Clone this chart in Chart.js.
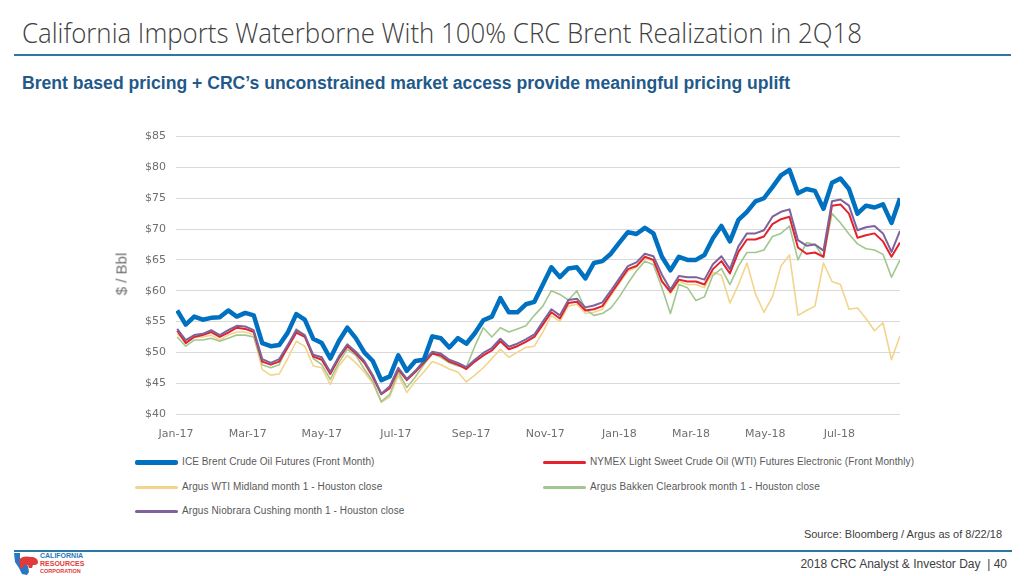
<!DOCTYPE html>
<html>
<head>
<meta charset="utf-8">
<script src="https://cdn.jsdelivr.net/npm/chart.js@4.4.1/dist/chart.umd.min.js"></script>
<style>
  html, body { margin: 0; padding: 0; }
  body { width: 1024px; height: 576px; position: relative; overflow: hidden; background: #fff; font-family: "Liberation Sans", Arial, sans-serif; }
  .abs { position: absolute; white-space: nowrap; }
  #title { left: 22px; top: 13px; font-family: "Open Sans", sans-serif; font-weight: 300; font-size: 28px; color: #404040; transform-origin: left top; }
  #topRule { left: 14px; top: 54px; width: 997px; height: 2px; background: #2a77a8; }
  #subtitle { left: 22px; top: 73px; font-family: "Liberation Sans Narrow", "Liberation Sans", sans-serif; font-weight: bold; font-size: 18px; color: #1f5a8a; transform-origin: left top; }
  #chartBox { left: 100px; top: 120px; width: 820px; height: 324px; }
  #yTitle { left: 121px; top: 274px; font-size: 15px; color: #6f6f6f; transform: translate(-50%, -50%) rotate(-90deg); }
  .legItem { position: absolute; height: 14px; font-size: 10px; color: #595959; white-space: nowrap; }
  .legItem span.sw { position: absolute; left: 0; width: 43px; border-radius: 2px; }
  .legItem span.tx { position: absolute; left: 47px; top: 0; line-height: 14px; white-space: nowrap; letter-spacing: 0.1px; }
  #source { right: 22px; top: 528px; font-size: 11px; color: #404040; }
  #botRule { left: 14px; top: 550px; width: 998px; height: 2px; background: #2a77a8; }
  #footer { right: 17px; top: 557px; font-size: 12px; color: #404040; }
  #logo { left: 13px; top: 552px; width: 80px; height: 24px; }
  .lg { position: absolute; left: 27px; font-weight: bold; line-height: 6px; }
</style>
</head>
<body>
<div id="title" class="abs">California Imports Waterborne With 100% CRC Brent Realization in 2Q18</div>
<div id="topRule" class="abs"></div>
<div id="subtitle" class="abs">Brent based pricing + CRC’s unconstrained market access provide meaningful pricing uplift</div>
<div id="chartBox" class="abs"><canvas id="chart" width="820" height="324"></canvas></div>
<div id="yTitle" class="abs">$ / Bbl</div>
<div id="legend"></div>
<div id="source" class="abs">Source: Bloomberg / Argus as of 8/22/18</div>
<div id="botRule" class="abs"></div>
<div id="footer" class="abs">2018 CRC Analyst &amp; Investor Day &nbsp;| 40</div>
<div id="logo" class="abs">
  <svg width="26" height="24" viewBox="0 0 26 24" style="position:absolute;left:0;top:0">
    <path d="M1 1 L7 1 L7 7 L15 14 L16 20 L14 23 L9 22 L6 16 L2 10 Z" fill="#2a77c0"/>
    <path d="M6 8 C8 4 14 4 18 5 C22 5 25 7 25 10 C25 13 22 13 20 13 L19 16 L16 16 L15 13 L11 13 L10 16 L7 16 L7 12 Z" fill="#e03a3a"/>
  </svg>
  <div class="lg" style="top:1px;font-size:7px;color:#2a77c0">CALIFORNIA</div>
  <div class="lg" style="top:9px;font-size:7px;color:#e03a3a">RESOURCES</div>
  <div class="lg" style="top:16px;font-size:5.5px;color:#e03a3a">CORPORATION</div>
</div>

<script>
// weekly samples (Mondays), Jan 2017 - Aug 2018
const weeks = [
  '2017-01-02','2017-01-09','2017-01-16','2017-01-23','2017-01-30','2017-02-06','2017-02-13','2017-02-20','2017-02-27','2017-03-06',
  '2017-03-13','2017-03-20','2017-03-27','2017-04-03','2017-04-10','2017-04-17','2017-04-24','2017-05-01','2017-05-08','2017-05-15',
  '2017-05-22','2017-05-29','2017-06-05','2017-06-12','2017-06-19','2017-06-26','2017-07-03','2017-07-10','2017-07-17','2017-07-24',
  '2017-07-31','2017-08-07','2017-08-14','2017-08-21','2017-08-28','2017-09-04','2017-09-11','2017-09-18','2017-09-25','2017-10-02',
  '2017-10-09','2017-10-16','2017-10-23','2017-10-30','2017-11-06','2017-11-13','2017-11-20','2017-11-27','2017-12-04','2017-12-11',
  '2017-12-18','2017-12-25','2018-01-01','2018-01-08','2018-01-15','2018-01-22','2018-01-29','2018-02-05','2018-02-12','2018-02-19',
  '2018-02-26','2018-03-05','2018-03-12','2018-03-19','2018-03-26','2018-04-02','2018-04-09','2018-04-16','2018-04-23','2018-04-30',
  '2018-05-07','2018-05-14','2018-05-21','2018-05-28','2018-06-04','2018-06-11','2018-06-18','2018-06-25','2018-07-02','2018-07-09',
  '2018-07-16','2018-07-23','2018-07-30','2018-08-06','2018-08-13','2018-08-20'
];

const brent = [
  56.8, 54.5, 55.8, 55.3, 55.6, 55.7, 56.8, 55.8, 56.4, 56.0,
  51.5, 51.0, 51.2, 53.2, 56.2, 55.3, 52.2, 51.5, 49.0, 51.8,
  54.0, 52.3, 50.0, 48.6, 45.5, 46.1, 49.5, 47.0, 48.6, 48.8,
  52.6, 52.3, 50.8, 52.3, 51.4, 53.1, 55.2, 55.8, 58.8, 56.5,
  56.5, 57.8, 58.2, 61.0, 63.8, 62.2, 63.6, 63.8, 62.0, 64.5,
  64.8, 66.0, 67.8, 69.5, 69.2, 70.2, 69.3, 65.5, 63.3, 65.5,
  65.0, 65.0, 65.8, 68.5, 70.5, 68.0, 71.5, 72.8, 74.5, 75.0,
  76.8, 78.7, 79.6, 75.8, 76.5, 76.2, 73.3, 77.5, 78.2, 76.5,
  72.5, 73.8, 73.5, 74.0, 71.0, 75.0
];
const wti = [
  53.5, 51.5, 52.5, 52.8, 53.3, 52.5, 53.2, 54.0, 53.8, 53.3,
  48.5, 48.0, 48.5, 50.8, 53.2, 52.5, 49.3, 48.8, 46.5, 49.0,
  51.0, 49.8, 48.3, 46.0, 43.2, 44.2, 47.2, 45.5, 46.8, 48.3,
  49.8, 49.5, 48.5, 48.0, 47.3, 48.5, 49.5, 50.3, 51.8, 50.5,
  51.0, 51.7, 52.5, 54.5, 56.5, 55.5, 58.0, 58.2, 56.8, 57.0,
  57.5, 59.5, 61.5, 63.5, 64.0, 65.5, 65.0, 61.5, 59.8, 61.8,
  61.5, 61.5, 61.0, 63.5, 64.8, 62.8, 66.3, 68.3, 68.3, 68.8,
  70.8, 71.6, 72.0, 67.0, 66.0, 66.2, 65.5, 73.8, 74.0, 72.5,
  68.6, 69.0, 69.3, 68.0, 65.5, 67.8
];
const midland = [
  53.0, 51.8, 52.5, 52.5, 52.8, 52.0, 52.8, 53.3, 53.3, 52.8,
  47.2, 46.3, 46.5, 49.0, 51.8, 51.0, 47.8, 47.5, 44.8, 47.8,
  49.5, 48.3, 46.8, 45.0, 41.9, 42.8, 46.3, 43.5, 45.3, 46.8,
  48.5, 48.0, 47.3, 46.8, 45.2, 46.3, 47.5, 49.0, 50.5, 49.2,
  50.0, 50.8, 51.0, 53.3, 56.0, 55.0, 57.5, 57.8, 56.3, 56.5,
  57.0, 59.2, 61.2, 63.2, 63.8, 65.3, 64.8, 61.7, 59.5, 61.5,
  61.0, 61.0, 60.5, 63.0, 62.5, 58.0, 61.0, 64.5, 59.5, 56.5,
  59.0, 64.0, 65.8, 56.0, 56.8, 57.5, 64.5, 61.5, 61.0, 57.0,
  57.2, 55.5, 53.5, 54.8, 48.8, 52.7
];
const bakken = [
  52.5, 51.0, 52.0, 52.0, 52.3, 51.8, 52.3, 52.8, 52.8, 52.5,
  48.0, 47.5, 48.0, 51.0, 53.8, 52.8, 49.0, 48.0, 45.6, 48.3,
  50.5, 49.5, 47.3, 45.3, 42.0, 43.2, 46.8, 44.3, 46.0, 48.0,
  49.8, 49.2, 48.3, 47.8, 47.6, 51.0, 54.0, 52.5, 54.0, 53.3,
  53.8, 54.3, 56.0, 57.5, 60.0, 59.4, 58.5, 60.0, 57.0, 56.0,
  56.3, 57.2, 59.0, 61.2, 63.2, 64.8, 64.2, 60.5, 56.3, 61.0,
  60.5, 58.4, 59.0, 62.5, 63.6, 61.0, 64.0, 66.2, 66.2, 66.6,
  68.8, 69.3, 70.5, 65.0, 67.8, 67.5, 65.4, 72.5, 71.0, 69.2,
  67.6, 66.8, 66.6, 65.9, 62.2, 65.0
];
const niobrara = [
  53.8, 52.0, 52.8, 53.0, 53.6, 52.8, 53.6, 54.3, 54.2, 53.6,
  48.9, 48.3, 48.9, 51.2, 53.6, 52.8, 49.6, 49.2, 46.8, 49.3,
  51.3, 50.1, 48.6, 46.3, 43.3, 44.5, 47.5, 45.7, 47.0, 48.6,
  50.1, 49.8, 48.8, 48.3, 47.6, 48.8, 49.9, 50.7, 52.2, 50.9,
  51.4, 52.1, 52.9, 55.0, 57.0, 56.0, 58.5, 58.7, 57.3, 57.6,
  58.1, 60.0, 62.0, 64.0, 64.6, 66.0, 65.6, 62.6, 60.2, 62.4,
  62.2, 62.2, 61.8, 64.3, 65.6, 63.5, 67.2, 69.3, 69.3, 69.8,
  72.0, 72.8, 73.2, 68.2, 67.3, 67.5, 66.5, 74.5, 74.8, 73.8,
  69.8, 70.3, 70.5, 69.3, 66.3, 69.7
];

const seriesNames = [
  'ICE Brent Crude Oil Futures (Front Month)',
  'NYMEX Light Sweet Crude Oil (WTI) Futures Electronic (Front Monthly)',
  'Argus WTI Midland month 1 - Houston close',
  'Argus Bakken Clearbrook month 1 - Houston close',
  'Argus Niobrara Cushing month 1 - Houston close'
];
const seriesColors = ['#0070c0', '#e3222b', '#f3d48c', '#a2c78e', '#7d629c'];

const tickDates = ['2017-01-01','2017-03-01','2017-05-01','2017-07-01','2017-09-01','2017-11-01','2018-01-01','2018-03-01','2018-05-01','2018-07-01'];
const tickLabels = ['Jan-17','Mar-17','May-17','Jul-17','Sep-17','Nov-17','Jan-18','Mar-18','May-18','Jul-18'];
const yTicks = [40, 45, 50, 55, 60, 65, 70, 75, 80, 85];

// day offset from 1 Jan 2017
function dayOf(s) {
  const p = s.split('-').map(Number);
  return Math.round((Date.UTC(p[0], p[1] - 1, p[2]) - Date.UTC(2017, 0, 1)) / 864e5);
}
const xs = weeks.map(dayOf);
const tickDays = tickDates.map(dayOf);

function pts(vals) {
  return vals.map((v, i) => ({ x: xs[i], y: v }));
}

// fit header text widths
function fitWidth(id, target) {
  const el = document.getElementById(id);
  const w = el.getBoundingClientRect().width;
  el.style.transform = 'scaleX(' + (target / w) + ')';
}
fitWidth('title', 840);
fitWidth('subtitle', 768);

// legend, two columns
const legPos = [[135, 455], [543, 455], [135, 480], [543, 480], [135, 504]];
const legWidth = [5, 3, 3, 3, 3];
const legend = document.getElementById('legend');
seriesNames.forEach((name, i) => {
  const d = document.createElement('div');
  d.className = 'legItem';
  d.style.left = legPos[i][0] + 'px';
  d.style.top = legPos[i][1] + 'px';
  d.innerHTML = '<span class="sw" style="top:' + (7 - legWidth[i] / 2) + 'px;height:' + legWidth[i] + 'px;background:' + seriesColors[i] + '"></span><span class="tx">' + name + '</span>';
  legend.appendChild(d);
});

const allSeries = [brent, wti, midland, bakken, niobrara];
const widths = [4.5, 2, 1.6, 1.6, 2];
const drawOrder = [0, 2, 4, 3, 1];

new Chart(document.getElementById('chart'), {
  type: 'line',
  data: {
    datasets: allSeries.map((vals, i) => ({
      label: seriesNames[i],
      data: pts(vals),
      borderColor: seriesColors[i],
      backgroundColor: seriesColors[i],
      borderWidth: widths[i],
      pointRadius: 0,
      tension: 0,
      fill: false,
      borderJoinStyle: 'round',
      order: drawOrder[i]
    }))
  },
  options: {
    responsive: false,
    animation: false,
    layout: { padding: { top: 14, right: 20, left: 0, bottom: 0 } },
    plugins: { legend: { display: false }, tooltip: { enabled: false } },
    scales: {
      x: {
        type: 'linear',
        min: 0,
        max: xs[xs.length - 1],
        grid: { display: false },
        border: { display: false },
        afterFit: s => { s.height = 30; },
        afterBuildTicks: s => { s.ticks = tickDays.map(v => ({ value: v })); },
        ticks: {
          autoSkip: false,
          maxRotation: 0,
          padding: 6,
          color: '#6f6f6f',
          font: { family: 'DejaVu Sans', size: 11 },
          callback: v => tickLabels[tickDays.indexOf(v)]
        }
      },
      y: {
        min: yTicks[0],
        max: yTicks[yTicks.length - 1],
        afterFit: s => { s.width = 76; },
        afterBuildTicks: s => { s.ticks = yTicks.map(v => ({ value: v })); },
        grid: { color: '#d9d9d9', lineWidth: 1, drawTicks: false },
        border: { display: false },
        ticks: {
          padding: 10,
          color: '#6f6f6f',
          font: { family: 'DejaVu Sans', size: 11 },
          callback: v => '$' + v
        }
      }
    }
  }
});
</script>
</body>
</html>
